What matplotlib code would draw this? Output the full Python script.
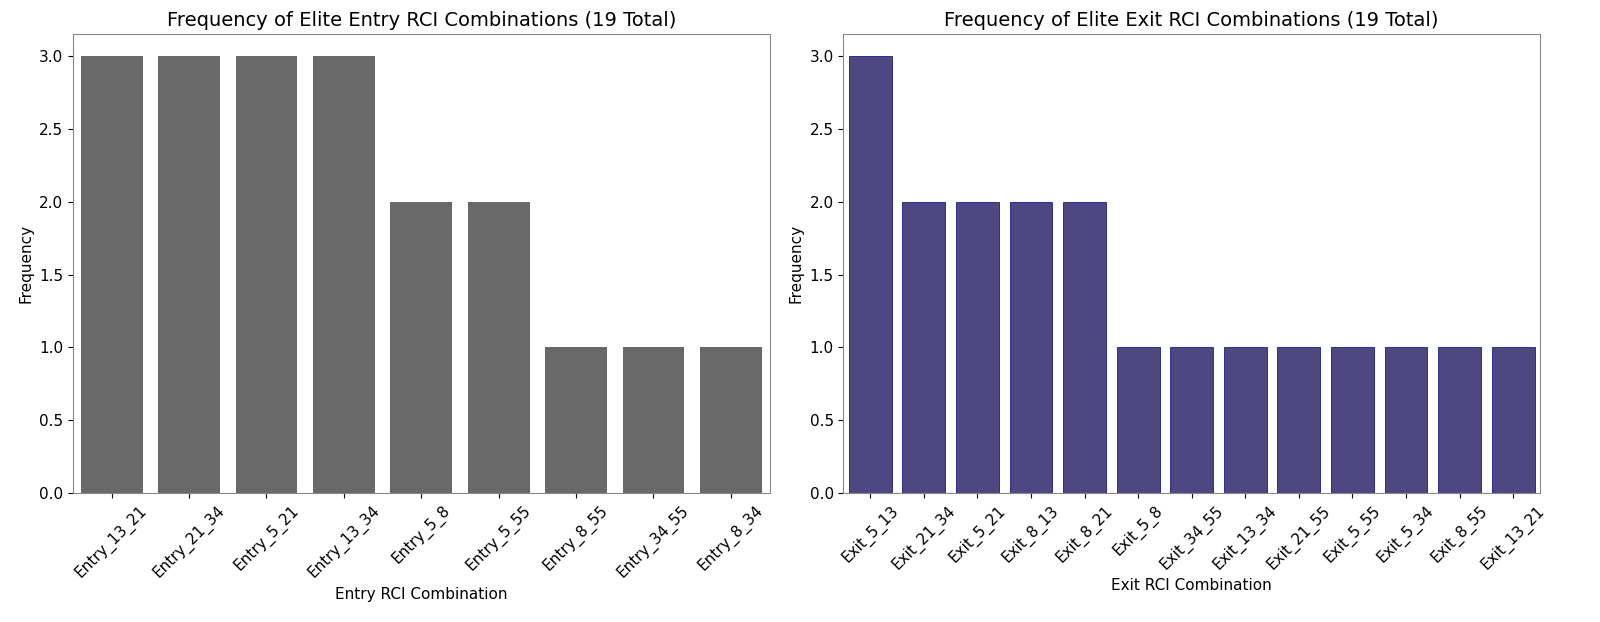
import matplotlib
matplotlib.use("Agg")
import matplotlib.pyplot as plt

entry_labels = ['Entry_13_21', 'Entry_21_34', 'Entry_5_21', 'Entry_13_34', 'Entry_5_8',
                'Entry_5_55', 'Entry_8_55', 'Entry_34_55', 'Entry_8_34']
entry_counts = [3, 3, 3, 3, 2, 2, 1, 1, 1]

exit_labels = ['Exit_5_13', 'Exit_21_34', 'Exit_5_21', 'Exit_8_13', 'Exit_8_21', 'Exit_5_8',
               'Exit_34_55', 'Exit_13_34', 'Exit_21_55', 'Exit_5_55', 'Exit_5_34',
               'Exit_8_55', 'Exit_13_21']
exit_counts = [3, 2, 2, 2, 2, 1, 1, 1, 1, 1, 1, 1, 1]

fig, (ax1, ax2) = plt.subplots(1, 2, figsize=(16, 6.22), dpi=100)

ax1.bar(range(len(entry_labels)), entry_counts, width=0.8, color='#696969')
ax1.set_xticks(range(len(entry_labels)))
ax1.set_xticklabels(entry_labels, rotation=45)
ax1.set_xlim(-0.5, len(entry_labels) - 0.5)
ax1.set_title('Frequency of Elite Entry RCI Combinations (19 Total)', fontsize=14)
ax1.set_xlabel('Entry RCI Combination')
ax1.set_ylabel('Frequency')

ax2.bar(range(len(exit_labels)), exit_counts, width=0.8, color='#4F4781', edgecolor='navy', linewidth=0.5)
ax2.set_xticks(range(len(exit_labels)))
ax2.set_xticklabels(exit_labels, rotation=45)
ax2.set_xlim(-0.5, len(exit_labels) - 0.5)
ax2.set_title('Frequency of Elite Exit RCI Combinations (19 Total)', fontsize=14)
ax2.set_xlabel('Exit RCI Combination')
ax2.set_ylabel('Frequency')

for ax in (ax1, ax2):
    ax.tick_params(labelsize=11)
    ax.xaxis.label.set_size(11)
    ax.yaxis.label.set_size(11)
    for s in ax.spines.values():
        s.set_color('#888888')

fig.subplots_adjust(left=0.0456, right=0.9625, bottom=0.2074, top=0.945, wspace=0.106)
plt.savefig('out.png')
